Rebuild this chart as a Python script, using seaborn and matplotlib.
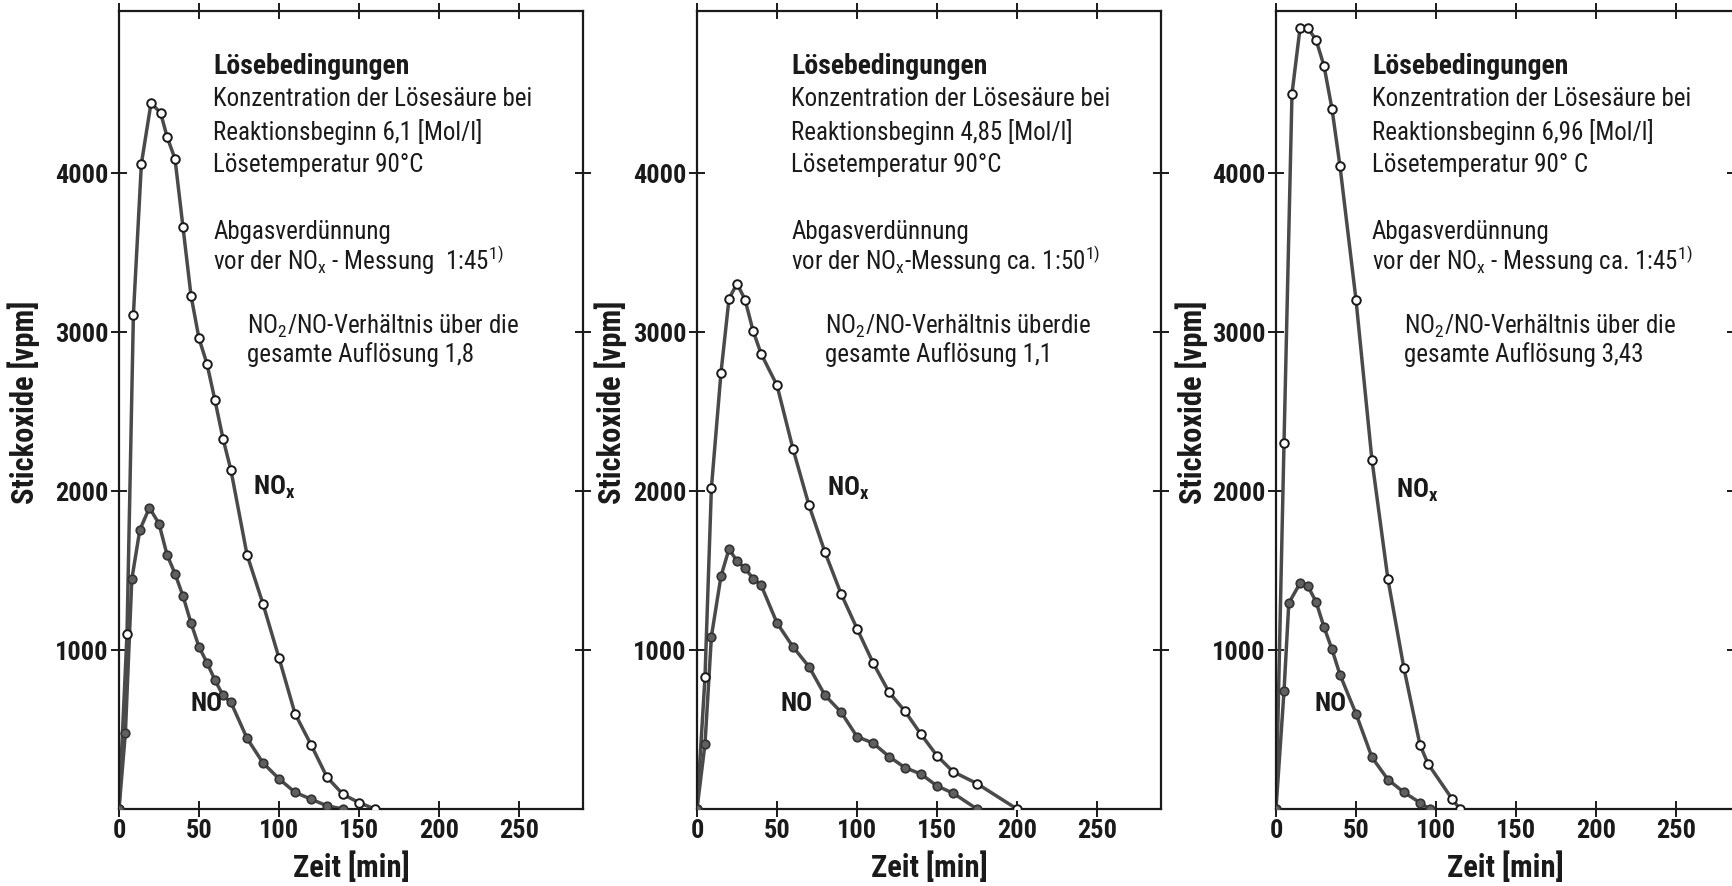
import matplotlib
matplotlib.use("Agg")
import matplotlib.pyplot as plt
import matplotlib.font_manager as fm
import pandas as pd
import seaborn as sns

# ---- measured series: time [min] and nitrogen oxides [vpm] ----
# run 1: 6,1 mol/l
t_nox_1 = [0, 5, 9, 14, 20, 26, 30, 35, 40, 45, 50, 55, 60, 65, 70, 80, 90, 100, 110, 120, 130, 140, 150, 160]
nox_1 = [0, 1100, 3110, 4060, 4440, 4380, 4230, 4090, 3660, 3230, 2960, 2800, 2570, 2330, 2130,
         1600, 1290, 950, 600, 405, 200, 92, 40, 0]
t_no_1 = [0, 4, 8, 13, 19, 25, 30, 35, 40, 45, 50, 55, 60, 65, 70, 80, 90, 100, 110, 120, 130, 140]
no_1 = [0, 480, 1445, 1755, 1895, 1795, 1600, 1480, 1340, 1170, 1020, 920, 810, 715, 670,
        445, 290, 190, 105, 62, 20, 0]

# run 2: 4,85 mol/l
t_nox_2 = [0, 5, 9, 15, 20, 25, 30, 35, 40, 50, 60, 70, 80, 90, 100, 110, 120, 130, 140, 150, 160, 175, 200]
nox_2 = [0, 830, 2020, 2745, 3210, 3305, 3205, 3010, 2865, 2665, 2265, 1910, 1615, 1355, 1135,
         920, 735, 615, 470, 335, 235, 160, 0]
t_no_2 = [0, 5, 9, 15, 20, 25, 30, 35, 40, 50, 60, 70, 80, 90, 100, 110, 120, 130, 140, 150, 160, 175]
no_2 = [0, 410, 1085, 1465, 1635, 1560, 1515, 1450, 1410, 1170, 1020, 895, 715, 610, 455,
        415, 330, 260, 220, 145, 100, 0]

# run 3: 6,96 mol/l
t_nox_3 = [0, 5, 10, 15, 20, 25, 30, 35, 40, 50, 60, 70, 80, 90, 95, 110, 115]
nox_3 = [0, 2300, 4500, 4910, 4910, 4840, 4675, 4405, 4045, 3205, 2195, 1445, 885, 405, 285, 65, 0]
t_no_3 = [0, 5, 8, 15, 20, 25, 30, 35, 40, 50, 60, 70, 80, 90, 96]
no_3 = [0, 740, 1295, 1420, 1400, 1305, 1145, 1005, 845, 600, 325, 185, 105, 40, 0]

# ---- panel texts ----
concentration = ["6,1", "4,85", "6,96"]
temperature = ["90°C", "90°C", "90° C"]
dilution_line = [
    r"vor der NO$\mathregular{_x}$ - Messung  1:45$\mathregular{^{1)}}$",
    r"vor der NO$\mathregular{_x}$-Messung ca. 1:50$\mathregular{^{1)}}$",
    r"vor der NO$\mathregular{_x}$ - Messung ca. 1:45$\mathregular{^{1)}}$",
]
ratio_first = [
    r"NO$\mathregular{_2}$/NO-Verhältnis über die",
    r"NO$\mathregular{_2}$/NO-Verhältnis überdie",
    r"NO$\mathregular{_2}$/NO-Verhältnis über die",
]
ratio_value = ["1,8", "1,1", "3,43"]
x_ticks = [0, 50, 100, 150, 200, 250]
y_ticks = [1000, 2000, 3000, 4000]

runs = [
    (t_nox_1, nox_1, t_no_1, no_1),
    (t_nox_2, nox_2, t_no_2, no_2),
    (t_nox_3, nox_3, t_no_3, no_3),
]

sns.set_style("ticks")

# pick the narrowest sans family that is installed
_names = {f.name for f in fm.fontManager.ttflist}
FAMILY = next((f for f in ["Roboto Condensed", "Liberation Sans Narrow", "Open Sans Condensed",
                           "DejaVu Sans"] if f in _names), "DejaVu Sans")
plt.rcParams["font.family"] = [FAMILY, "DejaVu Sans"]
plt.rcParams["font.stretch"] = "condensed"
plt.rcParams["mathtext.default"] = "regular"

INK = "#1a1a1a"
LINE = "#4a4a4a"

W, H = 1733, 886
fig = plt.figure(figsize=(W / 100, H / 100), dpi=100)
fig.patch.set_facecolor("white")

# axes frames in pixels: left edge, width; the third frame runs off the right edge
lefts = [119, 697, 1276]
widths = [464, 464, 459]
xmax = [290, 290, 287]
ylabel_x = [-0.170, -0.150, -0.148]
text_x = [59, 59, 60]
ratio_x = [80, 80, 80]
nox_label = [(84, 2025), (81, 2015), (75, 2005)]
no_label = [(45, 660), (52, 660), (24, 660)]

for i, (tx, nx, tn, nn) in enumerate(runs):
    ax = fig.add_axes([lefts[i] / W, (H - 809) / H, widths[i] / W, 798 / H])
    df = pd.concat([
        pd.DataFrame({"t": tx, "v": nx, "Gas": "NOx"}),
        pd.DataFrame({"t": tn, "v": nn, "Gas": "NO"}),
    ], ignore_index=True)

    sns.lineplot(data=df, x="t", y="v", hue="Gas", palette={"NOx": LINE, "NO": LINE},
                 estimator=None, sort=False, legend=False, lw=2.5, ax=ax, zorder=2)
    sns.scatterplot(data=df[df.Gas == "NOx"], x="t", y="v", ax=ax, s=38, marker="o",
                    facecolor="white", edgecolor=INK, linewidth=1.4, zorder=3, legend=False)
    sns.scatterplot(data=df[df.Gas == "NO"], x="t", y="v", ax=ax, s=38, marker="o",
                    facecolor="#606060", edgecolor="#333333", linewidth=1.2, zorder=3, legend=False)

    ax.set_xlim(0, xmax[i])
    ax.set_ylim(0, 5020)
    ax.set_xticks(x_ticks)
    ax.set_yticks(y_ticks)
    ax.tick_params(direction="inout", length=11, width=1.4, colors=INK, top=True, right=True,
                   labeltop=False, labelright=False, labelsize=19, pad=2)
    for lab in ax.get_xticklabels() + ax.get_yticklabels():
        lab.set_fontweight("bold")
    for sp in ax.spines.values():
        sp.set_visible(True)
        sp.set_linewidth(1.6)
        sp.set_color(INK)

    ax.set_xlabel("Zeit [min]", fontsize=22, fontweight="bold", color=INK, labelpad=6)
    ax.set_ylabel("Stickoxide [vpm]", fontsize=22, fontweight="bold", color=INK)
    ax.yaxis.set_label_coords(ylabel_x[i], 0.51)

    # test conditions
    x0 = text_x[i]
    ax.text(x0, 4670, "Lösebedingungen", fontsize=20, fontweight="semibold", color=INK, va="center")
    ax.text(x0, 4465, "Konzentration der Lösesäure bei", fontsize=18, color=INK, va="center")
    ax.text(x0, 4258, f"Reaktionsbeginn {concentration[i]} [Mol/l]", fontsize=18, color=INK, va="center")
    ax.text(x0, 4050, f"Lösetemperatur {temperature[i]}", fontsize=18, color=INK, va="center")
    ax.text(x0, 3632, "Abgasverdünnung", fontsize=18, color=INK, va="center")
    ax.text(x0, 3450, dilution_line[i], fontsize=18, color=INK, va="center")
    ax.text(ratio_x[i], 3034, ratio_first[i], fontsize=18, color=INK, va="center")
    ax.text(ratio_x[i], 2856, f"gesamte Auflösung {ratio_value[i]}", fontsize=18, color=INK, va="center")

    # curve labels
    ax.text(*nox_label[i], r"NO$\mathregular{_x}$", fontsize=19, fontweight="bold", color=INK, va="center")
    ax.text(*no_label[i], "NO", fontsize=19, fontweight="bold", color=INK, va="center")

fig.savefig("out.png", dpi=100, facecolor="white")
